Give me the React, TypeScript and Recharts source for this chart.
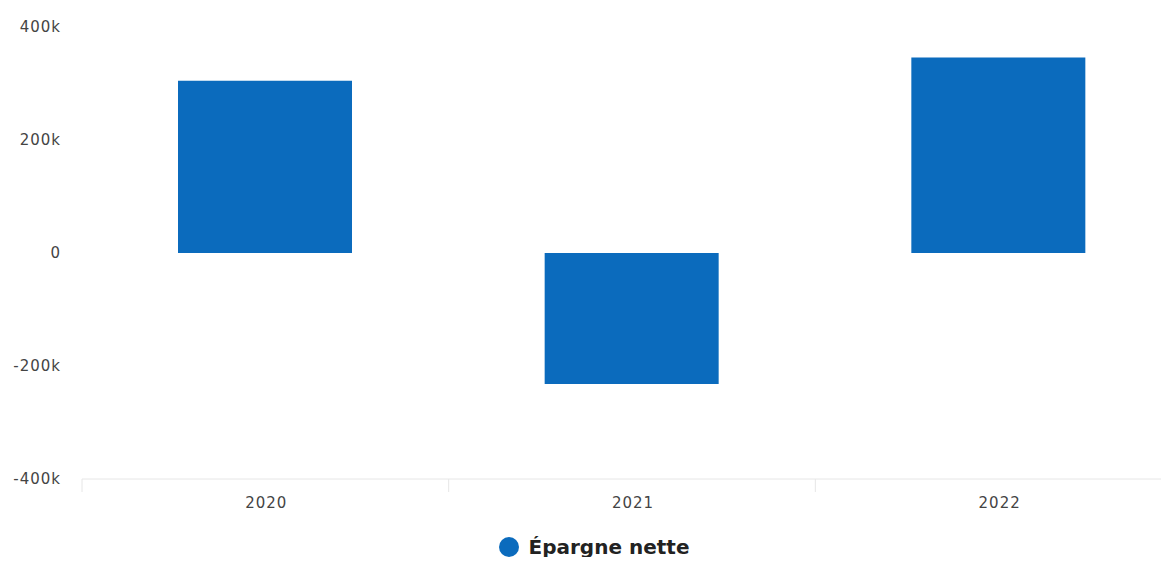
import React from 'react';
import { BarChart, Bar, XAxis, YAxis, Legend } from 'recharts';

const years = ['2020', '2021', '2022'];
const epargneNette = [305000, -232000, 346000];
const yTicks = [-400000, -200000, 0, 200000, 400000];
const seriesName = 'Épargne nette';

const data = years.map((year, i) => ({ year, value: epargneNette[i] }));

const BLUE = '#0b6bbd';
const AXIS = '#e6e6e6';
const TICK_FONT = '"DejaVu Sans", sans-serif';

const formatK = (v: number) => (v === 0 ? '0' : `${v / 1000}k`);

// category label in the middle, small tick mark on the left edge of each band
function YearTick(props: any) {
    const { x, y, payload } = props;
    const half = payload && payload.offset ? payload.offset : 183;
    return (
        <g>
            <line x1={x - half} y1={y} x2={x - half} y2={y + 13} stroke={AXIS} />
            <text
                x={x + 1}
                y={y + 29}
                textAnchor="middle"
                fontSize={15}
                fill="#444"
                fontFamily={TICK_FONT}
                letterSpacing={1}
            >
                {payload.value}
            </text>
        </g>
    );
}

function LegendContent() {
    return (
        <div
            style={{
                height: 46,
                paddingTop: 18,
                paddingLeft: 6,
                boxSizing: 'border-box',
                display: 'flex',
                justifyContent: 'center',
                alignItems: 'flex-start',
                fontFamily: TICK_FONT,
                fontWeight: 700,
                fontSize: 20,
                lineHeight: '20px',
                color: '#222',
            }}
        >
            <span style={{ display: 'flex', alignItems: 'center', height: 20 }}>
                <span
                    style={{
                        width: 20,
                        height: 20,
                        borderRadius: '50%',
                        background: BLUE,
                        display: 'inline-block',
                        marginRight: 10,
                    }}
                />
                {seriesName}
            </span>
        </div>
    );
}

export default function App() {
    return (
        <div style={{ margin: -8, width: 1169, height: 565, overflow: 'hidden', background: '#fff' }}>
            <BarChart
                width={1192}
                height={565}
                data={data}
                margin={{ top: 27, right: 10, bottom: 0, left: 0 }}
            >
                <XAxis
                    dataKey="year"
                    height={40}
                    stroke={AXIS}
                    tickLine={false}
                    tickSize={0}
                    tickMargin={0}
                    interval={0}
                    tick={<YearTick />}
                />
                <YAxis
                    width={82}
                    domain={[-400000, 400000]}
                    ticks={yTicks}
                    tickFormatter={formatK}
                    axisLine={false}
                    tickLine={false}
                    tickMargin={15}
                    tick={{ fontSize: 15, fill: '#444', fontFamily: TICK_FONT, letterSpacing: 1 }}
                />
                <Legend verticalAlign="bottom" content={<LegendContent />} />
                <Bar dataKey="value" name={seriesName} fill={BLUE} barSize={174} isAnimationActive={false} />
            </BarChart>
        </div>
    );
}
